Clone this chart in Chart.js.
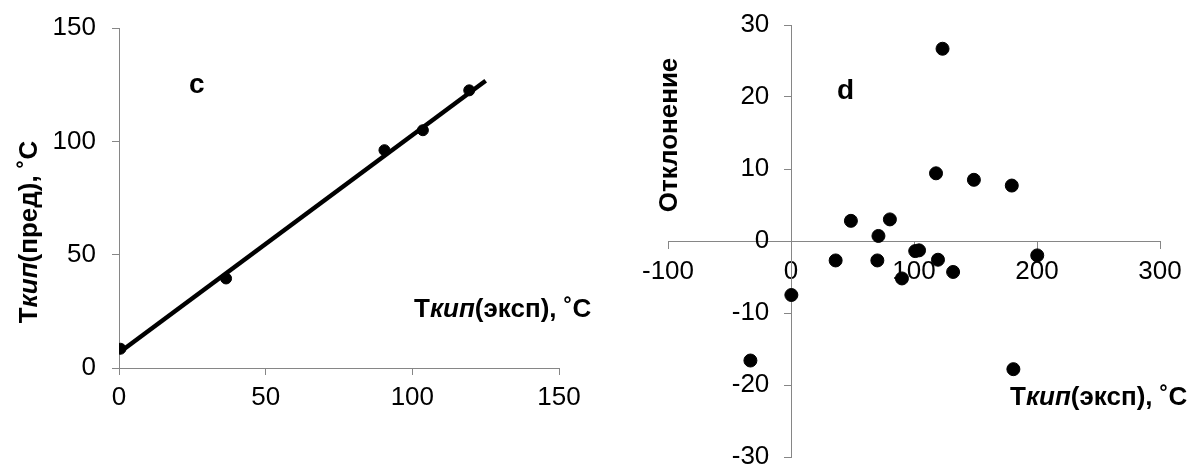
<!DOCTYPE html>
<html lang="ru">
<head>
  <meta charset="UTF-8" />
  <title>Ткип: предсказание и отклонение</title>
  <style>
    html, body {
      margin: 0;
      padding: 0;
      background: #fff;
      overflow: hidden;
    }

    canvas {
      position: absolute;
      top: 0;
    }

    #chartC { left: 0; }
    #chartD { left: 600px; }
  </style>
</head>
<body>

  <canvas id="chartC" width="600" height="466"></canvas>
  <canvas id="chartD" width="590" height="500"></canvas>

  <script src="https://cdn.jsdelivr.net/npm/chart.js"></script>
  <script>
    // панель c: предсказанная Ткип против экспериментальной
    const expC  = [0.5, 36.5, 90.5, 103.6, 119.4];
    const predC = [8.5, 39.5, 96.1, 104.9, 122.5];
    const fitX  = [0, 125];
    const fitY  = [6.7, 126.7];
    const ticksC = [0, 50, 100, 150];

    // панель d: отклонения
    const expD = [123.2, 117.9, 148.7, 179.5, 48.7, 80.4, 71.1, 36.3, 70.2,
                  101.0, 104.1, 119.5, 131.8, 90.2, 200.2, 0.3, -33, 180.8];
    const devD = [26.7, 9.4, 8.5, 7.7, 2.8, 3.0, 0.7, -2.7, -2.7,
                  -1.4, -1.3, -2.6, -4.3, -5.2, -2.0, -7.5, -16.6, -17.8];
    const ticksDx = [-100, 0, 100, 200, 300];
    const ticksDy = [-30, -20, -10, 0, 10, 20, 30];

    const labelExp  = [['Т', false], ['кип', true], ['(эксп), ˚C', false]];
    const labelPred = [['Т', false], ['кип', true], ['(пред), ˚C', false]];
    const labelDev  = [['Отклонение', false]];

    const FONT = "'Liberation Sans', Arial, sans-serif";
    const AXIS = '#868686';

    Chart.defaults.font.family = FONT;
    Chart.defaults.font.size = 26;
    Chart.defaults.color = '#000';

    function pts(xs, ys) {
      return xs.map((x, i) => ({ x: x, y: ys[i] }));
    }

    function noPad(s) {
      s.paddingLeft = 0;
      s.paddingRight = 0;
      s.paddingTop = 0;
      s.paddingBottom = 0;
    }

    function axis(min, max, step, pad, extra) {
      return Object.assign({
        type: 'linear',
        min: min,
        max: max,
        afterBuildTicks: s => { s.ticks = extra.list.map(v => ({ value: v })); },
        ticks: Object.assign({ stepSize: step, padding: pad, color: '#000' }, extra.ticks || {}),
        grid: { drawOnChartArea: false, drawTicks: true, tickLength: 7, color: AXIS },
        border: { color: AXIS, width: 1 }
      }, extra.opts);
    }

    // подписи осей и букв панелей
    const notesPlugin = {
      id: 'notes',
      afterDraw(chart, args, opts) {
        const ctx = chart.ctx;
        (opts.items || []).forEach(it => {
          ctx.save();
          ctx.translate(it.x, it.y);
          if (it.rotate) ctx.rotate(-Math.PI / 2);
          ctx.fillStyle = '#000';
          ctx.textBaseline = 'alphabetic';
          ctx.textAlign = 'left';
          let total = 0;
          it.parts.forEach(p => {
            ctx.font = (p[1] ? 'italic ' : '') + 'bold ' + it.size + 'px ' + FONT;
            total += ctx.measureText(p[0]).width;
          });
          let x = it.center ? -total / 2 : 0;
          it.parts.forEach(p => {
            ctx.font = (p[1] ? 'italic ' : '') + 'bold ' + it.size + 'px ' + FONT;
            ctx.fillText(p[0], x, 0);
            x += ctx.measureText(p[0]).width;
          });
          ctx.restore();
        });
      }
    };

    new Chart(document.getElementById('chartC'), {
      type: 'scatter',
      data: {
        datasets: [{
          data: pts(expC, predC),
          backgroundColor: '#000',
          borderColor: '#000',
          pointRadius: 5.5
        }, {
          data: pts(fitX, fitY),
          showLine: true,
          borderColor: '#000',
          borderWidth: 4.5,
          pointRadius: 0
        }]
      },
      options: {
        responsive: false,
        animation: false,
        layout: { padding: { top: 28, right: 41, bottom: 0, left: 0 } },
        plugins: {
          legend: { display: false },
          tooltip: { enabled: false },
          notes: {
            items: [
              { parts: [['c', false]], x: 189, y: 93, size: 28 },
              { parts: labelExp, x: 414, y: 317, size: 26 },
              { parts: labelPred, x: 37, y: 232, size: 26, rotate: true, center: true }
            ]
          }
        },
        scales: {
          x: axis(0, 150, 50, 7, {
            list: ticksC,
            opts: { afterFit: s => { s.height = 98; noPad(s); } }
          }),
          y: axis(0, 150, 50, 16, {
            list: ticksC,
            opts: { afterFit: s => { s.width = 119; noPad(s); } }
          })
        }
      },
      plugins: [notesPlugin]
    });

    new Chart(document.getElementById('chartD'), {
      type: 'scatter',
      data: {
        datasets: [{
          data: pts(expD, devD),
          backgroundColor: '#000',
          borderColor: '#000',
          pointRadius: 6.5
        }]
      },
      options: {
        responsive: false,
        animation: false,
        layout: { padding: { top: 25, right: 30, bottom: 43, left: 68 } },
        plugins: {
          legend: { display: false },
          tooltip: { enabled: false },
          notes: {
            items: [
              { parts: [['d', false]], x: 237, y: 99, size: 28 },
              { parts: labelExp, x: 410, y: 405, size: 26 },
              { parts: labelDev, x: 77, y: 135, size: 26, rotate: true, center: true }
            ]
          }
        },
        scales: {
          x: axis(-100, 300, 100, 8, {
            list: ticksDx,
            opts: { position: { y: 0 }, afterFit: s => noPad(s) }
          }),
          // подписи оси, стоящей на x = 0, рисуются вплотную к ней: отодвигаем пробелами
          y: axis(-30, 30, 10, 16, {
            list: ticksDy,
            ticks: { callback: v => v + '\u00a0\u00a0\u00a0' },
            opts: { position: { x: 0 }, afterFit: s => noPad(s) }
          })
        }
      },
      plugins: [notesPlugin]
    });
  </script>
</body>
</html>
